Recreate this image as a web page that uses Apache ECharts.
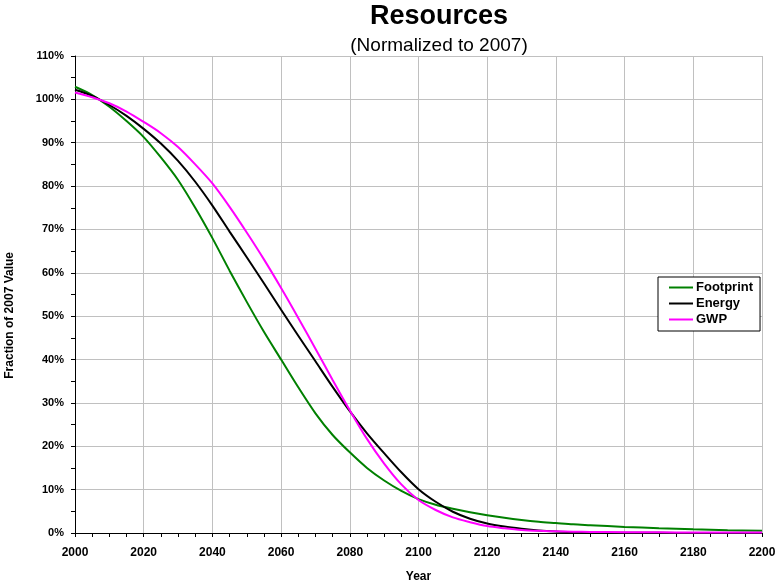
<!DOCTYPE html>
<html><head><meta charset="utf-8">
<script src="https://cdn.jsdelivr.net/npm/echarts@6/dist/echarts.min.js"></script>
<style>html,body{margin:0;padding:0;background:#fff}#c{width:778px;height:585px}</style>
</head><body><div id="c"></div>
<script>
const years = [2000,2005,2010,2015,2020,2025,2030,2035,2040,2045,2050,2055,2060,2065,2070,2075,2080,2085,2090,2095,2100,2105,2110,2115,2120,2125,2130,2135,2140,2145,2150,2160,2170,2180,2190,2200];
const footprint = [102.9,101.0,98.3,95.0,91.3,86.6,81.4,75.0,68.0,60.5,53.3,46.4,40.0,33.6,27.6,22.6,18.6,15.0,12.1,9.7,7.8,6.5,5.6,4.8,4.1,3.5,3.0,2.6,2.3,2.0,1.8,1.4,1.1,0.85,0.65,0.5];
const energy = [102.2,100.8,98.7,96.2,93.2,89.8,85.8,81.0,75.5,69.5,63.6,57.6,51.5,45.5,39.6,33.7,28.1,23.0,18.4,14.0,10.1,7.2,4.9,3.3,2.2,1.5,1.0,0.6,0.35,0.2,0.1,0.05,0.03,0.02,0.01,0.01];
const gwp = [101.6,100.5,99.1,97.2,94.8,92.2,89.0,85.0,80.6,75.2,69.3,63.1,56.5,49.6,42.5,35.3,28.3,21.7,16.0,11.2,7.6,5.3,3.6,2.5,1.6,1.1,0.7,0.5,0.4,0.3,0.25,0.2,0.15,0.12,0.1,0.1];
const seriesNames = ['Footprint','Energy','GWP'];
const seriesColors = ['#008000','#000000','#ff00ff'];

const chart = echarts.init(document.getElementById('c'));
const mk = (name, vals, color) => ({
  name, type: 'line', smooth: 0.3, showSymbol: false, animation: false,
  data: years.map((y,i)=>[y, vals[i]]),
  lineStyle: {color, width: 2}, itemStyle: {color}
});
chart.setOption({
  animation: false,
  textStyle: {fontFamily: 'Liberation Sans, Arial, sans-serif'},
  title: [
    {text: 'Resources', left: 434, top: -2, textAlign: 'center',
     textStyle: {fontSize: 27, fontWeight: 'bold', color: '#000', fontFamily: 'Liberation Sans, Arial'}},
    {text: '(Normalized to 2007)', left: 434, top: 31, textAlign: 'center',
     textStyle: {fontSize: 19, fontWeight: 'normal', color: '#000', fontFamily: 'Liberation Sans, Arial'}}
  ],
  grid: {left: 75, right: 16, top: 56, bottom: 52, containLabel: false, outerBoundsMode: 'none'},
  legend: {
    orient: 'vertical', left: 658, top: 277, data: seriesNames,
    backgroundColor: '#fff', borderColor: '#000', borderWidth: 1,
    padding: [4, 7, 5, 11], itemGap: 3, itemWidth: 24, itemHeight: 2, icon: 'rect',
    textStyle: {fontSize: 13, fontWeight: 'bold', color: '#000', padding: [0,0,0,-2]}
  },
  xAxis: {
    type: 'value', min: 2000, max: 2200, interval: 20,
    name: 'Year', nameLocation: 'middle', nameGap: 38,
    nameTextStyle: {fontSize: 12, fontWeight: 'bold', color: '#000'},
    axisLine: {show: true, lineStyle: {color: '#000', width: 1}},
    axisTick: {show: true, length: 4, lineStyle: {color: '#000'}},
    minorTick: {show: true, splitNumber: 4, length: 4, lineStyle: {color: '#000'}},
    axisLabel: {fontSize: 12, fontWeight: 'bold', color: '#000', margin: 14, formatter: v => String(v)},
    splitLine: {show: true, lineStyle: {color: '#c0c0c0', width: 1}}
  },
  yAxis: {
    type: 'value', min: 0, max: 110, interval: 10,
    axisLine: {show: true, lineStyle: {color: '#000', width: 1}},
    axisTick: {show: true, length: 4, lineStyle: {color: '#000'}},
    minorTick: {show: true, splitNumber: 2, length: 4, lineStyle: {color: '#000'}},
    axisLabel: {fontSize: 11, fontWeight: 'bold', color: '#000', margin: 11, formatter: '{value}%'},
    splitLine: {show: true, lineStyle: {color: '#c0c0c0', width: 1}}
  },
  graphic: [{
    type: 'text', left: 4, top: 252, rotation: Math.PI/2,
    style: {text: 'Fraction of 2007 Value', fontSize: 12, fontWeight: 'bold', fill: '#000',
            fontFamily: 'Liberation Sans, Arial'}
  }],
  series: [mk(seriesNames[0], footprint, seriesColors[0]), mk(seriesNames[1], energy, seriesColors[1]), mk(seriesNames[2], gwp, seriesColors[2])]
});
</script></body></html>
